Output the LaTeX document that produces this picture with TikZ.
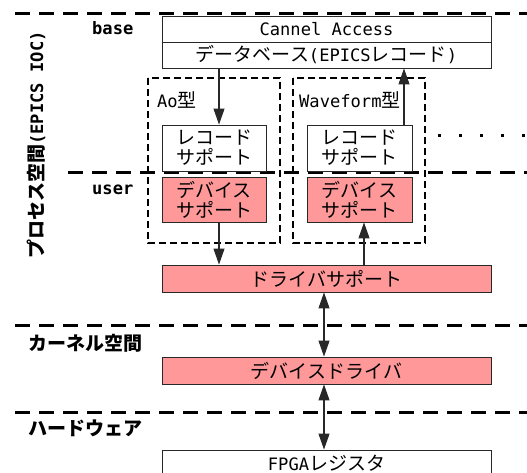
\documentclass[tikz,border=0pt]{standalone}
\usepackage{fontspec}
\setmainfont{Noto Sans CJK JP}
\newfontfamily\mono{DejaVu Sans Mono}[Scale=0.9]
\usetikzlibrary{arrows.meta,calc}
\definecolor{pinkfill}{RGB}{255,153,153}
\definecolor{edge}{RGB}{40,40,40}
\begin{document}
\begin{tikzpicture}[x=1pt,y=-1pt,
  every node/.style={font=\fontsize{19}{20}\selectfont},
  box/.style={draw=edge,line width=0.9pt,fill=white,inner sep=0pt,align=center},
  pinkbox/.style={box,fill=pinkfill},
  wide/.style={minimum width=329pt,minimum height=26pt},
  small/.style={minimum width=104pt,minimum height=46pt},
  layerline/.style={line width=3pt,dash pattern=on 15pt off 9pt},
  grpbox/.style={line width=2pt,dash pattern=on 7pt off 4pt},
  arr/.style={line width=1.1pt,draw=edge,-{Triangle[length=16pt,width=11pt]}},
  darr/.style={line width=1.1pt,draw=edge,{Triangle[length=16pt,width=11pt]}-{Triangle[length=16pt,width=11pt]}},
  lbl/.style={anchor=west,inner sep=0pt,font=\fontsize{19}{20}\selectfont\bfseries},
  grplbl/.style={anchor=west,inner sep=0pt}
]
\useasboundingbox (0,0) rectangle (527,473);

% layer separators
\draw[layerline] (15,14) -- (527,14);
\draw[layerline] (68,173) -- (527,173);
\draw[layerline] (15,325) -- (527,325);
\draw[layerline] (15,412) -- (527,412);

% group boxes
\draw[grpbox] (148,78) rectangle (280,243);
\draw[grpbox] (293,78) rectangle (425,243);

% boxes
\node[box,wide] (ca) at (326.5,29) {{\mono Cannel Access}};
\node[box,wide] (db) at (326.5,55) {データベース{\mono(EPICS}レコード{\mono)}};
\node[box,small] (rsL) at (214,148) {レコード\\サポート};
\node[pinkbox,small,minimum height=45pt] (dsL) at (214,199.5) {デバイス\\サポート};
\node[box,small,minimum width=105pt] (rsR) at (359.5,148) {レコード\\サポート};
\node[pinkbox,small,minimum width=105pt,minimum height=45pt] (dsR) at (359.5,199.5) {デバイス\\サポート};
\node[pinkbox,wide,minimum height=27pt] (drv) at (326.5,278.5) {ドライバサポート};
\node[pinkbox,wide,minimum height=27pt] (dd) at (326.5,370.5) {デバイスドライバ};
\node[box,wide,minimum height=27pt] (fpga) at (326.5,463.5) {{\mono FPGA}レジスタ};

% labels
\node[lbl] (lbase) at (92,28) {{\mono base}};
\node[lbl] (luser) at (92,190) {{\mono user}};
\node[lbl] (lkernel) at (28,343) {カーネル空間};
\node[lbl] (lhw) at (28,428) {ハードウェア};
\node[grplbl] (lao) at (157,100) {{\mono Ao}型};
\node[grplbl] (lwf) at (299,100) {{\mono Waveform}型};
\node[inner sep=0pt,rotate=90,font=\fontsize{19}{20}\selectfont\bfseries] (lproc) at (36,145) {プロセス空間{\mono(EPICS IOC)}};

% dots
\foreach \x in {439,460,481,502,523} \fill (\x-1.5,134.5) rectangle (\x+1.5,137.5);

% connectors
\coordinate (xa) at (219,0);
\coordinate (xb) at (364,0);
\coordinate (xc) at (404,0);
\coordinate (xd) at (324,0);
\draw[arr] (db.south -| xa) -- (rsL.north -| xa);
\draw[arr] (dsL.south -| xa) -- (drv.north -| xa);
\draw[arr] (drv.north -| xb) -- (dsR.south -| xb);
\draw[arr] (rsR.north -| xc) -- (db.south -| xc);
\draw[darr] (drv.south -| xd) -- (dd.north -| xd);
\draw[darr] (dd.south -| xd) -- (fpga.north -| xd);
\end{tikzpicture}
\end{document}
